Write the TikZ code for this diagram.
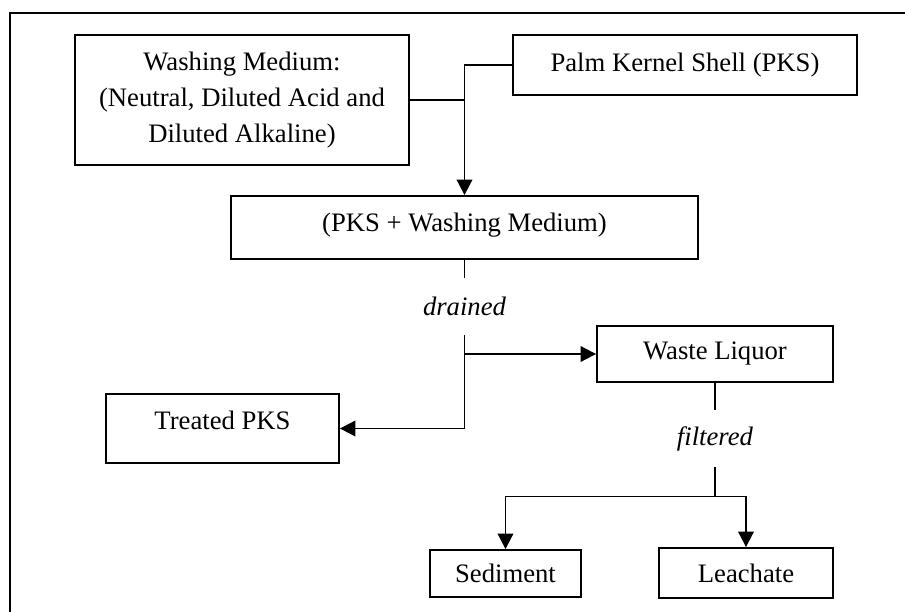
\documentclass[tikz,border=0pt]{standalone}
\usepackage{fontspec}
\setmainfont{Liberation Serif}
\usetikzlibrary{arrows.meta}
\newcommand{\px}{0.45pt}
\tikzset{
  box/.style={draw, line width=0.8pt, inner sep=0pt, align=center,
    font=\fontsize{12}{16.2}\selectfont},
  tag/.style={inner sep=0pt, minimum height=57*\px,
    font=\fontsize{12}{16.2}\selectfont\itshape},
  link/.style={line width=0.8pt},
  flow/.style={link, -{Triangle[length=7pt,width=7pt]}},
  frame/.style={line width=1.2pt}
}
\begin{document}
\begin{tikzpicture}[x=\px, y=-\px]
  \useasboundingbox (0,0) rectangle (905,612);
  \draw[frame] (915,13) -- (10,13) -- (10,620);

  \node[box, minimum width=334*\px, minimum height=130*\px] (wash) at (242,100)
    {Washing Medium:\\(Neutral, Diluted Acid and\\Diluted Alkaline)};
  \node[box, minimum width=344*\px, minimum height=60*\px] (pks) at (685,65)
    {Palm Kernel Shell (PKS)};
  \node[box, minimum width=467*\px, minimum height=63*\px, text depth=5pt] (mix) at (464.5,227.5)
    {(PKS + Washing Medium)};
  \node[tag] (drained) at (464.5,306.5) {drained};
  \node[box, minimum width=236*\px, minimum height=56*\px] (waste) at (715,354)
    {Waste Liquor};
  \node[box, minimum width=233*\px, minimum height=69*\px, text depth=7pt] (treated) at (222.5,428.5)
    {Treated PKS};
  \node[tag] (filtered) at (715,438.5) {filtered};
  \node[box, minimum width=151*\px, minimum height=47*\px] (sed) at (505.5,573.5)
    {Sediment};
  \node[box, minimum width=174*\px, minimum height=50*\px] (leach) at (746,573)
    {Leachate};

  \draw[flow] (pks.west) -| (mix.north);
  \draw[link] (wash.east) -- (wash.east -| mix.north);
  \draw[link] (mix.south) -- (drained.north);
  \draw[flow] (drained.south) |- (waste.west);
  \draw[flow] (drained.south) |- (treated.east);
  \draw[link] (waste.south) -- (filtered.north);
  \draw[flow] (filtered.south) -- ++(0,29) coordinate (split) -| (sed.north);
  \draw[flow] (split) -| (leach.north);
\end{tikzpicture}
\end{document}
